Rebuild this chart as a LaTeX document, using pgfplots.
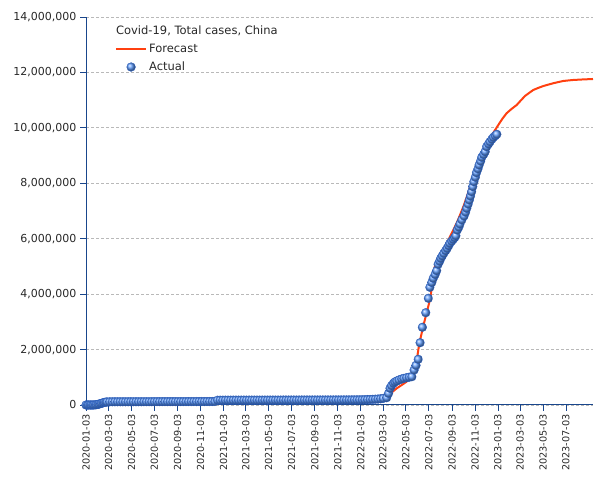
\documentclass[border=0pt]{standalone}
\usepackage{fontspec}
\setmainfont{DejaVu Sans}
\usepackage{pgfplots}
\pgfplotsset{compat=1.18}
\definecolor{axblue}{RGB}{25,70,140}
\definecolor{fcred}{RGB}{255,64,16}
\definecolor{ballblue}{RGB}{95,155,250}
\definecolor{balledge}{RGB}{40,95,200}
\definecolor{txt}{RGB}{40,40,40}
\pgfplotsset{
  lineimg/.style={legend image code/.code={\draw[##1] (0pt,0pt) -- (30pt,0pt);}},
  ballimg/.style={legend image code/.code={\draw[##1] plot coordinates {(15pt,0pt)};}},
}
\begin{document}
\begin{tikzpicture}
\begin{axis}[
  scale only axis, width=507pt, height=388pt,
  xmin=0, xmax=1349, ymin=0, ymax=14000000,
  clip=false,
  axis lines=left,
  axis line style={axblue, line width=1pt, -},
  tick style={axblue, line width=0.8pt},
  tick align=outside, major tick length=6pt,
  /pgf/number format/assume math mode=true,
  xtick={0,60,121,182,244,305,366,425,486,547,609,670,731,790,851,912,974,1035,1096,1155,1216,1277},
  xticklabels={2020-01-03,2020-03-03,2020-05-03,2020-07-03,2020-09-03,2020-11-03,2021-01-03,2021-03-03,2021-05-03,2021-07-03,2021-09-03,2021-11-03,2022-01-03,2022-03-03,2022-05-03,2022-07-03,2022-09-03,2022-11-03,2023-01-03,2023-03-03,2023-05-03,2023-07-03},
  x tick label style={rotate=90, anchor=east, font=\fontsize{9.7}{10}\selectfont, text=txt},
  ytick={0,2000000,4000000,6000000,8000000,10000000,12000000,14000000},
  scaled y ticks=false,
  yticklabel style={/pgf/number format/fixed, /pgf/number format/1000 sep={,}, font=\fontsize{11}{12}\selectfont, text=txt},
  ymajorgrids, grid style={densely dashed, gray!55, line width=0.7pt},
  reverse legend,
  legend style={draw=none, fill=none, at={(rel axis cs:0.057,0.936)}, anchor=north west,
    font=\fontsize{11.5}{12}\selectfont, text=txt, row sep=4pt, inner sep=0pt,
    nodes={inner sep=2pt}},
  legend cell align=left,
]
\addplot[only marks, color=balledge, mark=ball, mark size=4.4pt, mark options={line width=0.3pt}, ball color=ballblue, ballimg]
coordinates {
(0,0)(4,50)(7,100)(11,200)(14,300)(18,800)(21,2000)(25,6000)(28,12000)(32,24000)(35,35000)(39,50000)(42,65000)(46,82000)(49,95000)(53,104000)(56,110000)
(63,116000)(70,117000)(77,118000)(84,118000)(91,118000)(98,118000)(105,118000)(112,118000)(119,119000)(126,119000)(133,119000)(140,119000)(147,119000)(154,120000)(161,120000)(168,120000)(175,120000)
(182,122000)(189,122000)(196,122000)(203,122000)(210,122000)(217,122000)(224,122000)(231,122000)(238,123000)(245,123000)(252,123000)(259,123000)(266,123000)(273,124000)(280,124000)(287,124000)(294,124000)(301,125000)(308,125000)(315,125000)(322,126000)(329,126000)(336,127000)(343,128000)
(350,172000)(357,173000)(364,173000)(371,174000)(378,174000)(385,174000)(392,175000)(399,175000)(406,175000)(413,175000)(420,175000)(427,175000)(434,176000)(441,176000)(448,176000)(455,176000)(462,176000)(469,176000)(476,176000)(483,177000)(490,177000)(497,177000)(504,177000)(511,177000)(518,177000)(525,178000)(532,178000)(539,178000)(546,178000)(553,178000)(560,178000)(567,178000)(574,179000)(581,179000)(588,179000)(595,179000)(602,179000)(609,180000)(616,180000)
(623,180000)(630,180000)(637,180000)(644,181000)(651,181000)(658,181000)(665,182000)(672,182000)(679,182000)(686,183000)(693,183000)(700,184000)(707,185000)(714,186000)(721,187000)(728,188000)(735,190000)(742,193000)(749,197000)(756,200000)
(763,205000)(770,210000)(777,215000)(784,225000)(791,240000)
(800,263000)(805,420000)(809,603000)(813,700000)(818,783000)(822,830000)(827,866000)(833,905000)(840,938000)(846,962000)(853,985000)(860,1003000)(867,1021000)(873,1263000)(878,1430000)(884,1649000)(889,2248000)(895,2804000)(904,3330000)(911,3850000)(915,4247000)(920,4420000)(924,4572000)(929,4710000)(933,4846000)(937,5077000)(941,5190000)(944,5293000)(948,5380000)(952,5474000)(957,5570000)(961,5654000)(965,5750000)(968,5834000)(973,5910000)(977,5979000)(981,6040000)(984,6109000)(988,6314000)(992,6420000)(995,6531000)(1000,6680000)(1006,6820000)(1010,6960000)(1013,7097000)(1017,7250000)(1020,7397000)(1023,7540000)(1026,7696000)(1029,7880000)(1032,8057000)(1036,8220000)(1039,8382000)(1043,8520000)(1046,8660000)(1050,8800000)(1053,8938000)(1058,9040000)(1062,9140000)(1066,9320000)(1071,9420000)(1075,9500000)(1080,9590000)(1084,9659000)(1089,9715000)(1093,9767000)
};
\addlegendentry{Actual}
\addplot[fcred, line width=2pt, mark=none, lineimg]
coordinates {
(0,0)(245,0)(245,36000)(325,36000)(325,83000)(400,83000)(400,119000)(622,119000)(622,144000)(689,144000)(689,206000)(716,206000)(716,250000)(742,250000)(755,280000)(770,300000)(785,330000)(800,361000)(815,470000)(827,603000)(840,720000)(853,841000)(862,1000000)(871,1202000)(880,1624000)(887,2226000)(897,2825000)(906,3309000)(915,3789000)(922,4400000)(928,4990000)(940,5350000)(950,5600000)(960,5834000)(973,6200000)(986,6556000)(995,6850000)(1004,7155000)(1013,7500000)(1022,7877000)(1030,8180000)(1039,8479000)(1050,8820000)(1062,9140000)(1075,9623000)(1086,9870000)(1097,10103000)(1108,10330000)(1119,10525000)(1132,10680000)(1146,10825000)(1157,10990000)(1168,11149000)(1179,11260000)(1190,11366000)(1203,11440000)(1217,11510000)(1230,11560000)(1243,11608000)(1256,11650000)(1270,11691000)(1283,11710000)(1296,11727000)(1320,11745000)(1349,11763000)
};
\addlegendentry{Forecast}
\node[anchor=west, font=\fontsize{11.5}{12}\selectfont, text=txt, inner sep=0pt] at (rel axis cs:0.059,0.964) {Covid-19, Total cases, China};
\coordinate (bbll) at (rel axis cs:-0.16963,-0.19330);
\coordinate (bbur) at (rel axis cs:1.02367,1.04381);
\end{axis}
\pgfresetboundingbox
\useasboundingbox (bbll) rectangle (bbur);
\end{tikzpicture}
\end{document}
